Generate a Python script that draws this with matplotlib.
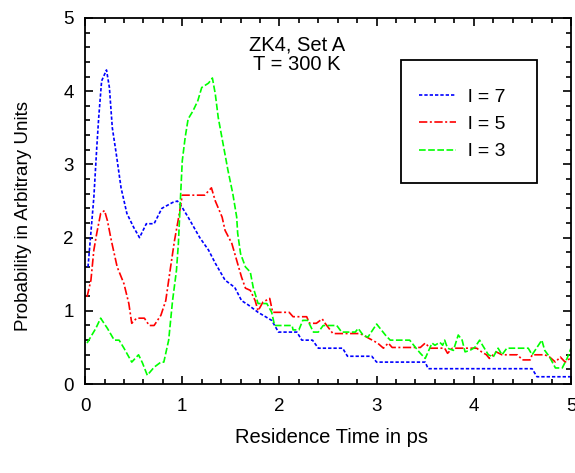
import matplotlib
matplotlib.use("Agg")
import matplotlib.pyplot as plt
from matplotlib import patches
from matplotlib.ticker import MultipleLocator

plt.rcParams['font.family'] = ['Liberation Sans', 'DejaVu Sans']

# l = 7
x_l7 = [0.03, 0.09, 0.12, 0.14, 0.17, 0.22, 0.25, 0.28, 0.32, 0.37, 0.43, 0.5, 0.56, 0.63, 0.71,
        0.79, 0.9, 0.95, 1.0, 1.06, 1.18, 1.27, 1.34, 1.44, 1.54, 1.61, 1.68, 1.78, 1.92, 1.99,
        2.18, 2.23, 2.34, 2.4, 2.65, 2.7, 2.95, 3.0, 3.5, 3.53, 4.6, 4.65, 5.0]
y_l7 = [1.6, 2.55, 3.23, 3.64, 4.14, 4.29, 4.05, 3.5, 3.15, 2.68, 2.33, 2.14, 2.0, 2.19, 2.19,
        2.4, 2.48, 2.5, 2.41, 2.28, 2.0, 1.83, 1.65, 1.42, 1.32, 1.14, 1.08, 0.98, 0.87, 0.71,
        0.71, 0.6, 0.6, 0.49, 0.49, 0.38, 0.38, 0.3, 0.3, 0.21, 0.21, 0.1, 0.1]

# l = 5
x_l5 = [0.02, 0.06, 0.09, 0.12, 0.16, 0.2, 0.23, 0.27, 0.33, 0.4, 0.45, 0.48, 0.53, 0.61, 0.66,
        0.71, 0.78, 0.83, 0.88, 0.92, 0.97, 1.0, 1.23, 1.3, 1.34, 1.41, 1.44, 1.51, 1.56, 1.61,
        1.65, 1.7, 1.75, 1.78, 1.83, 1.9, 1.93, 2.1, 2.14, 2.28, 2.31, 2.38, 2.44, 2.47, 2.55,
        2.83, 2.9, 3.01, 3.07, 3.12, 3.16, 3.45, 3.5, 3.55, 3.7, 3.73, 3.78, 4.03, 4.08, 4.13,
        4.16, 4.23, 4.29, 4.45, 4.5, 4.58, 4.6, 4.73, 4.78, 4.84, 4.89, 4.94, 4.99]
y_l5 = [1.19, 1.42, 1.83, 2.06, 2.33, 2.37, 2.23, 1.96, 1.6, 1.37, 1.1, 0.83, 0.9, 0.9, 0.8,
        0.8, 0.94, 1.14, 1.6, 1.96, 2.33, 2.58, 2.58, 2.68, 2.5, 2.28, 2.1, 1.92, 1.69, 1.46,
        1.31, 1.28, 1.14, 1.0, 1.12, 1.17, 0.98, 0.98, 0.92, 0.92, 0.83, 0.83, 0.89, 0.83, 0.69,
        0.69, 0.64, 0.56, 0.49, 0.56, 0.5, 0.5, 0.56, 0.49, 0.49, 0.42, 0.49, 0.49, 0.44, 0.4,
        0.35, 0.44, 0.4, 0.4, 0.33, 0.33, 0.4, 0.4, 0.37, 0.3, 0.37, 0.3, 0.35]

# l = 3
x_l3 = [0.02, 0.11, 0.16, 0.23, 0.3, 0.35, 0.4, 0.48, 0.55, 0.59, 0.64, 0.71, 0.78, 0.81, 0.86,
        0.9, 0.94, 0.96, 0.98, 1.0, 1.03, 1.06, 1.11, 1.16, 1.2, 1.27, 1.31, 1.34, 1.37, 1.42,
        1.47, 1.52, 1.56, 1.57, 1.6, 1.65, 1.7, 1.73, 1.78, 1.87, 1.92, 1.95, 2.13, 2.14, 2.2,
        2.24, 2.29, 2.35, 2.4, 2.45, 2.59, 2.64, 2.78, 2.81, 2.86, 2.91, 3.0, 3.09, 3.14, 3.34,
        3.4, 3.45, 3.5, 3.53, 3.57, 3.6, 3.65, 3.68, 3.7, 3.73, 3.79, 3.84, 3.88, 3.91, 3.96,
        4.01, 4.06, 4.09, 4.15, 4.2, 4.25, 4.29, 4.34, 4.56, 4.6, 4.65, 4.7, 4.73, 4.78, 4.84,
        4.91, 4.96, 5.0]
y_l3 = [0.56, 0.76, 0.9, 0.76, 0.6, 0.6, 0.49, 0.3, 0.4, 0.29, 0.12, 0.23, 0.3, 0.3, 0.6,
        1.14, 1.55, 1.92, 2.5, 3.05, 3.37, 3.62, 3.73, 3.87, 4.05, 4.11, 4.18, 3.96, 3.64, 3.28,
        2.92, 2.6, 2.28, 2.06, 1.78, 1.6, 1.53, 1.32, 1.1, 1.1, 0.98, 0.8, 0.8, 0.74, 0.74,
        0.87, 0.87, 0.71, 0.71, 0.8, 0.8, 0.71, 0.71, 0.76, 0.67, 0.64, 0.82, 0.67, 0.6, 0.6,
        0.5, 0.42, 0.35, 0.44, 0.56, 0.53, 0.57, 0.53, 0.6, 0.49, 0.46, 0.67, 0.6, 0.44, 0.46,
        0.5, 0.6, 0.53, 0.4, 0.37, 0.49, 0.4, 0.49, 0.49, 0.4, 0.5, 0.6, 0.46, 0.37, 0.22,
        0.22, 0.35, 0.49]

fig = plt.figure(figsize=(5.75, 4.73), dpi=100)
ax = fig.add_axes([0.148, 0.188, 0.845, 0.774])

ax.plot(x_l7, y_l7, color='#0000ff', lw=1.2, ls=(0, (2, 1.2)), label='l = 7')
ax.plot(x_l5, y_l5, color='#ff0000', lw=1.2, ls=(0, (5, 1.5, 1.2, 1.5)), label='l = 5')
ax.plot(x_l3, y_l3, color='#00ff00', lw=1.2, ls=(0, (4, 1.5)), label='l = 3')

ax.set_xlim(0, 5)
ax.set_ylim(0, 5)
ax.xaxis.set_major_locator(MultipleLocator(1))
ax.yaxis.set_major_locator(MultipleLocator(1))
ax.xaxis.set_minor_locator(MultipleLocator(0.2))
ax.yaxis.set_minor_locator(MultipleLocator(0.2))
ax.tick_params(which='both', direction='in', top=True, right=True, width=1.2, labelsize=13.5)
ax.tick_params(which='major', length=6)
ax.tick_params(which='minor', length=3.5)
ax.tick_params(axis='x', pad=10)
ax.tick_params(axis='y', pad=8)
for s in ax.spines.values():
    s.set_linewidth(1.3)

ax.set_xlabel('Residence Time in ps', fontsize=14.5)
ax.set_ylabel('Probability in Arbitrary Units', fontsize=13.5)
ax.xaxis.set_label_coords(0.508, -0.12)
ax.yaxis.set_label_coords(-0.11, 0.46)

ax.text(0.436, 0.926, 'ZK4, Set A', transform=ax.transAxes, ha='center', va='center', fontsize=14.5)
ax.text(0.436, 0.872, 'T = 300 K', transform=ax.transAxes, ha='center', va='center', fontsize=14.5)

# legend box
ax.add_patch(patches.Rectangle((0.650, 0.549), 0.280, 0.336, transform=ax.transAxes,
                               fill=False, edgecolor='black', lw=1.3))
ax.legend(loc='upper left', bbox_to_anchor=(0.668, 0.835), frameon=False, fontsize=14,
          handlelength=1.9, handletextpad=0.6, labelspacing=0.5, borderpad=0)

fig.savefig('out.png', dpi=100)
